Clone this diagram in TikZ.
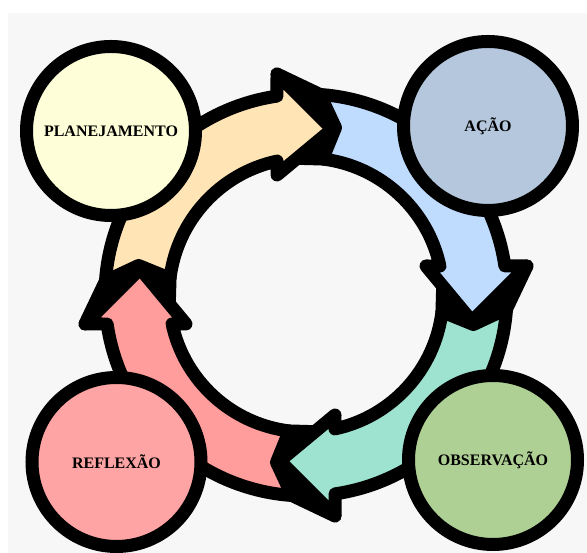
\documentclass[tikz,border=0pt]{standalone}
\usepackage{fontspec}
\setmainfont{Liberation Serif}
\definecolor{fundo}{HTML}{F7F7F7}
\definecolor{planfill}{HTML}{FEFED8}
\definecolor{acaofill}{HTML}{B4C7DC}
\definecolor{obsfill}{HTML}{AFD095}
\definecolor{reffill}{HTML}{FFA4A4}
\definecolor{setaplan}{HTML}{FFE5B5}
\definecolor{setaacao}{HTML}{BFDCFF}
\definecolor{setaobs}{HTML}{9DE3D0}
\definecolor{setaref}{HTML}{FF9C9C}

\begin{document}
\begin{tikzpicture}[x=1pt, y=1pt,
    fase/.style={circle, draw=black, line width=13pt, minimum size=169pt, inner sep=0pt,
        font=\bfseries\fontsize{16}{18}\selectfont},
    seta/.style={draw=black, line width=13pt, line join=round},
    juncao/.style={fill=black, draw=black, line width=13pt, line join=round}
]

% Fundo
\useasboundingbox (0,0) rectangle (587,553);
\fill[white] (0,0) rectangle (587,553);
\fill[fundo] (8,0) rectangle (587,540);

\coordinate (ring) at (306,258);

% Juncoes entre as setas
\foreach \k in {0,...,3}{
  \begin{scope}[shift={(ring)}, rotate=-90*\k]
    \filldraw[juncao] (176:201) -- (-221,-29) -- (-165.9,26.3) -- (-136.7,-8.9)
      -- (173:137) -- (-167.4,29.5) -- cycle;
  \end{scope}
}

% Setas do ciclo
\foreach \k/\cor in {0/setaplan, 1/setaacao, 2/setaobs, 3/setaref}{
  \begin{scope}[shift={(ring)}, rotate=-90*\k]
    \filldraw[seta, fill=\cor] (176:201) arc[start angle=176, end angle=98.3, radius=201]
      -- (-29,221) -- (26.3,165.9) -- (-29,120) -- (102.2:137)
      arc[start angle=102.2, end angle=173, radius=137]
      -- (-167.4,29.5) -- cycle;
  \end{scope}
}

% Fases
\node[fase, fill=planfill] (plan) at (111,422) {PLANEJAMENTO};
\node[fase, fill=acaofill] (acao) at (488,427) {AÇÃO};
\node[fase, fill=obsfill] (obs) at (493,93) {OBSERVAÇÃO};
\node[fase, fill=reffill] (ref) at (116.5,91) {REFLEXÃO};

\end{tikzpicture}
\end{document}
